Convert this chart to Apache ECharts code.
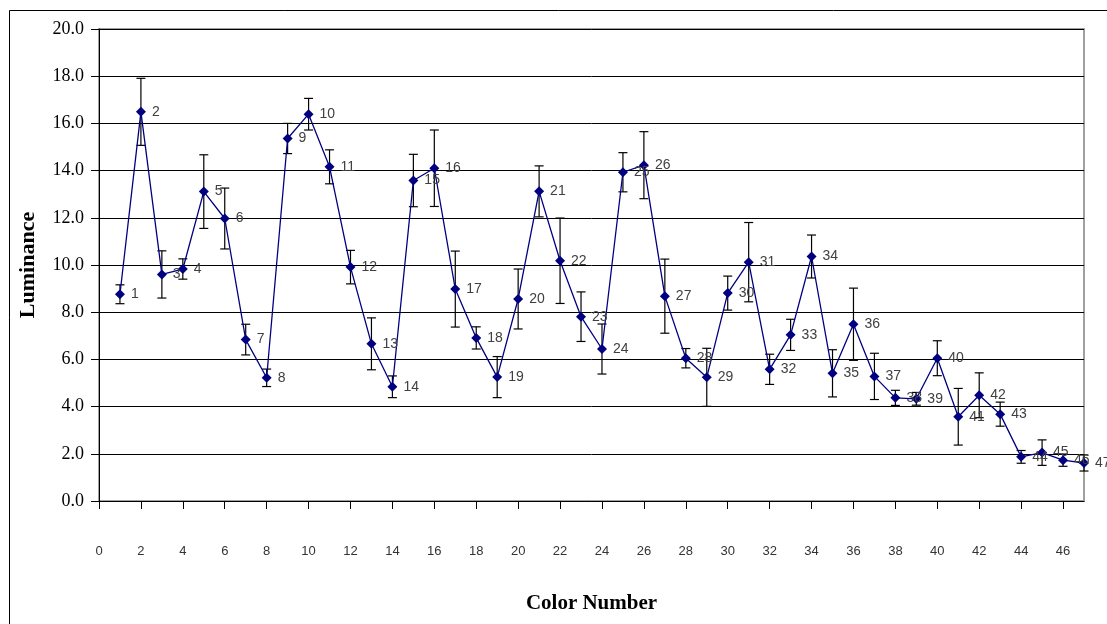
<!DOCTYPE html>
<html>
<head>
<meta charset="utf-8">
<script src="https://cdn.jsdelivr.net/npm/echarts@6/dist/echarts.min.js"></script>
<style>html,body{margin:0;padding:0;background:#fff;}#c{width:1107px;height:624px;}</style>
</head>
<body>
<div id="c"></div>
<script>
var colorNumbers = [1,2,3,4,5,6,7,8,9,10,11,12,13,14,15,16,17,18,19,20,21,22,23,24,25,26,27,28,29,30,31,32,33,34,35,36,37,38,39,40,41,42,43,44,45,46,47];
var luminance = [8.76,16.49,9.60,9.83,13.11,11.97,6.84,5.22,15.36,16.39,14.16,9.91,6.66,4.84,13.58,14.10,8.98,6.91,5.25,8.56,13.12,10.18,7.81,6.44,13.93,14.23,8.68,6.05,5.24,8.81,10.12,5.58,7.04,10.36,5.41,7.49,5.28,4.37,4.33,6.05,3.57,4.48,3.68,1.87,2.05,1.73,1.61];
var errors = [0.40,1.42,1.00,0.43,1.56,1.29,0.65,0.37,0.64,0.67,0.72,0.71,1.10,0.46,1.11,1.62,1.61,0.47,0.87,1.27,1.08,1.81,1.05,1.06,0.83,1.42,1.57,0.41,1.23,0.72,1.68,0.64,0.66,0.91,1.00,1.53,0.98,0.32,0.27,0.74,1.20,0.95,0.51,0.27,0.54,0.26,0.34];
var xTicks = [0,2,4,6,8,10,12,14,16,18,20,22,24,26,28,30,32,34,36,38,40,42,44,46];
var yTicks = [0,2,4,6,8,10,12,14,16,18,20];

var lineData = colorNumbers.map(function(c,i){ return [c, luminance[i]]; });
var errData = colorNumbers.map(function(c,i){ return [c, luminance[i]-errors[i], luminance[i]+errors[i]]; });

var chart = echarts.init(document.getElementById('c'));
chart.setOption({
  animation: false,
  backgroundColor: '#fff',
  graphic: [{
    type: 'rect', silent: true, z: -10,
    shape: {x: 9.5, y: 10.5, width: 1200, height: 700},
    style: {fill: 'none', stroke: '#000', lineWidth: 1}
  }],
  grid: {left: 99, top: 29, right: 23, bottom: 123, show: true, borderColor: '#a0a0a0', borderWidth: 2, backgroundColor: 'transparent'},
  xAxis: {
    type: 'value', min: 0, max: 47, interval: 2,
    name: 'Color Number', nameLocation: 'middle', nameGap: 92,
    nameTextStyle: {fontFamily: 'Liberation Serif', fontWeight: 'bold', fontSize: 21, color: '#000'},
    axisLine: {show: true, onZero: false, lineStyle: {color: '#000', width: 1}},
    axisTick: {show: true, length: 8, inside: false, lineStyle: {color: '#000'}},
    axisLabel: {show: true, margin: 44, fontFamily: 'Liberation Sans', fontSize: 13, color: '#333', showMaxLabel: false,
      formatter: function(v){ return xTicks.indexOf(v) >= 0 ? String(v) : ''; }},
    splitLine: {show: false}
  },
  yAxis: {
    type: 'value', min: 0, max: 20, interval: 2,
    name: 'Luminance', nameLocation: 'middle', nameGap: 60,
    nameTextStyle: {fontFamily: 'Liberation Serif', fontWeight: 'bold', fontSize: 22, color: '#000'},
    axisLine: {show: true, lineStyle: {color: '#000', width: 1}},
    axisTick: {show: true, length: 8, lineStyle: {color: '#000'}},
    axisLabel: {margin: 15, fontFamily: 'Liberation Serif', fontSize: 18, color: '#000',
      formatter: function(v){ return yTicks.indexOf(v) >= 0 ? v.toFixed(1) : ''; }},
    splitLine: {show: true, lineStyle: {color: '#000', width: 1}}
  },
  series: [{
    type: 'custom',
    data: errData,
    z: 3,
    renderItem: function(params, api){
      var x = api.value(0);
      var lo = api.coord([x, api.value(1)]);
      var hi = api.coord([x, api.value(2)]);
      var w = 4.5;
      var st = {stroke: '#000', lineWidth: 1.2};
      return {type: 'group', children: [
        {type: 'line', shape: {x1: lo[0], y1: lo[1], x2: hi[0], y2: hi[1]}, style: st},
        {type: 'line', shape: {x1: lo[0]-w, y1: lo[1], x2: lo[0]+w, y2: lo[1]}, style: st},
        {type: 'line', shape: {x1: hi[0]-w, y1: hi[1], x2: hi[0]+w, y2: hi[1]}, style: st}
      ]};
    }
  }, {
    type: 'line',
    data: lineData,
    z: 4,
    symbol: 'diamond',
    symbolSize: 10,
    lineStyle: {color: '#000080', width: 1.3},
    itemStyle: {color: '#000080'},
    label: {show: true, position: 'right', distance: 6, fontFamily: 'Liberation Sans', fontSize: 14, color: '#404040',
      formatter: function(p){ return String(p.value[0]); }}
  }]
});
</script>
</body>
</html>
